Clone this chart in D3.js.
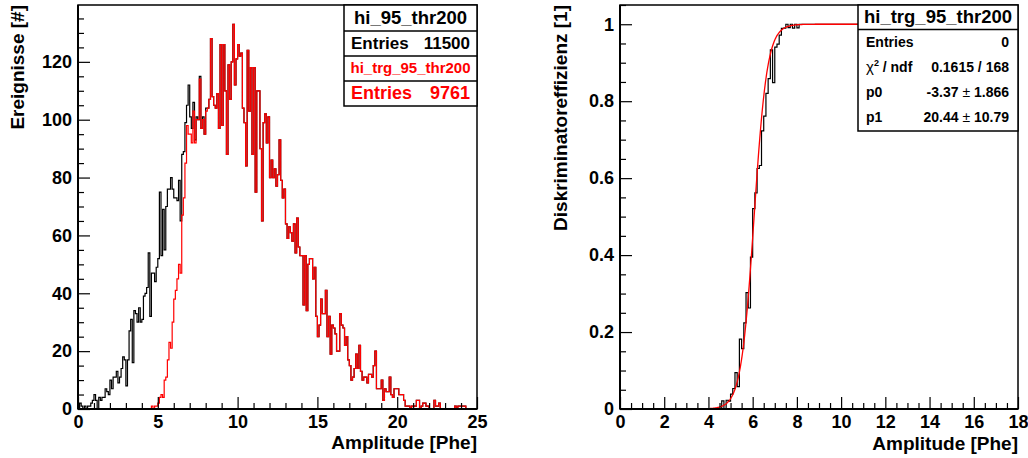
<!DOCTYPE html>
<html><head><meta charset="utf-8">
<script src="https://cdn.jsdelivr.net/npm/d3@7"></script>
<style>
html,body{margin:0;padding:0;background:#fff;}
svg{display:block;}
</style></head><body>
<svg id="c" width="1028" height="458"></svg>
<script>
// Amplitude spectra (0.1 Phe bins, 0..25 Phe)
const binWidth = 0.1;

// hi_95_thr200 : all events
const allCounts = [
  0,2,1,0,1,0,1,1,2,3,
  5,3,0,4,3,4,4,7,6,5,
  10,7,11,11,13,9,11,14,18,17,
  8,17,27,31,16,34,33,30,35,30,
  31,39,40,42,54,32,47,47,44,49,
  52,75,53,69,55,70,76,76,80,76,
  73,73,72,79,65,88,89,99,105,112,
  101,97,106,93,101,100,115,97,101,95,
  104,104,107,128,108,105,104,109,97,126,
  98,126,110,88,119,107,120,133,112,121,
  126,122,123,104,99,84,124,103,118,88,
  118,75,110,110,90,65,99,102,92,101,
  80,86,80,83,77,81,93,79,73,76,
  64,59,63,61,58,64,54,66,56,53,
  53,36,53,34,50,52,52,45,49,32,
  25,29,38,33,33,41,25,32,19,29,
  28,26,20,20,33,29,28,22,25,17,
  15,10,11,14,19,14,22,13,10,11,
  11,9,12,12,11,15,20,7,7,7,
  10,3,7,6,6,11,5,4,7,7,
  7,5,5,5,3,1,1,1,0,1,
  1,1,3,3,0,1,2,2,1,1,
  0,0,0,3,1,1,2,0,0,0,
  0,0,0,0,0,0,1,0,1,1,
  1,1,1,0,0,0,0,0,0,0
];

// hi_trg_95_thr200 : events passing the discriminator
const trgCounts = [
  0,0,0,0,0,0,0,0,0,0,
  0,0,0,0,0,0,0,0,0,0,
  0,0,0,0,0,0,0,0,0,0,
  0,0,0,0,0,0,0,0,0,0,
  0,0,0,0,0,0,1,0,1,1,
  2,4,5,4,10,11,17,23,21,30,
  38,41,45,50,47,67,73,85,98,95,
  95,92,103,92,100,100,114,97,100,95,
  103,104,107,128,108,105,104,109,97,126,
  98,126,110,88,119,107,120,133,112,121,
  126,122,123,104,99,84,124,103,118,88,
  118,75,110,110,90,65,99,102,92,101,
  80,86,80,83,77,81,93,79,73,76,
  64,59,63,61,58,64,54,66,56,53,
  53,36,53,34,50,52,52,45,49,32,
  25,29,38,33,33,41,25,32,19,29,
  28,26,20,20,33,29,28,22,25,17,
  15,10,11,14,19,14,22,13,10,11,
  11,9,12,12,11,15,20,7,7,7,
  10,3,7,6,6,11,5,4,7,7,
  7,5,5,5,3,1,1,1,0,1,
  1,1,3,3,0,1,2,2,1,1,
  0,0,0,3,1,1,2,0,0,0,
  0,0,0,0,0,0,1,0,1,1,
  1,1,1,0,0,0,0,0,0,0
];

// Axis ticks
const leftXMajor = [0,5,10,15,20,25];
const leftYMajor = [0,20,40,60,80,100,120];
const rightXMajor = [0,2,4,6,8,10,12,14,16,18];
const rightYMajor = [0,0.2,0.4,0.6,0.8,1];

// Sigmoid fit of the efficiency: 1/(1+exp(p0*x+p1))
const fitP0 = -3.37, fitP0Err = 1.866;
const fitP1 = 20.44, fitP1Err = 10.79;
const fitChi2 = "0.1615", fitNdf = 168;

// Stats box entries
const statsAll = {name: "hi_95_thr200", entries: 11500};
const statsTrg = {name: "hi_trg_95_thr200", entries: 9761};
const statsEff = {name: "hi_trg_95_thr200", entries: 0};

const FONT = '"Liberation Sans", Arial, Helvetica, sans-serif';
const svg = d3.select("#c").attr("font-family", FONT).attr("font-weight", "bold");

// efficiency = triggered / all, bin by bin
const effValues = allCounts.map((n, i) => n > 0 ? trgCounts[i] / n : 0);

function stepPoints(values, xMax) {
  const pts = [];
  values.forEach((v, i) => {
    const a = i * binWidth, b = (i + 1) * binWidth;
    if (a >= xMax - 1e-9) return;
    pts.push([a, v], [Math.min(b, xMax), v]);
  });
  return pts;
}

function minorTicks(lo, hi, step, majors) {
  return d3.range(lo, hi + step / 2, step)
    .map(v => +v.toFixed(6))
    .filter(v => !majors.some(m => Math.abs(m - v) < 1e-6));
}

function drawFrame(g, x, y, opts) {
  const [x0, x1] = x.range();
  const [yb, yt] = y.range();

  g.append("rect")
    .attr("x", x0).attr("y", yt)
    .attr("width", x1 - x0).attr("height", yb - yt)
    .attr("fill", "none").attr("stroke", "#000").attr("stroke-width", 1.5);

  const styleAxis = a => {
    a.select(".domain").remove();
    a.attr("font-family", FONT).attr("font-size", 18).attr("font-weight", "bold").attr("color", "#000");
    a.selectAll("line").attr("stroke-width", 1.2);
  };

  // x axis: minor then major
  g.append("g").attr("transform", `translate(0,${yb})`)
    .call(d3.axisBottom(x).tickValues(opts.xMinor).tickSize(-6).tickFormat(""))
    .call(styleAxis);
  g.append("g").attr("transform", `translate(0,${yb})`)
    .call(d3.axisBottom(x).tickValues(opts.xMajor).tickSize(-12).tickPadding(6).tickFormat(opts.xFmt))
    .call(styleAxis);

  // y axis
  g.append("g").attr("transform", `translate(${x0},0)`)
    .call(d3.axisLeft(y).tickValues(opts.yMinor).tickSize(-6).tickFormat(""))
    .call(styleAxis);
  g.append("g").attr("transform", `translate(${x0},0)`)
    .call(d3.axisLeft(y).tickValues(opts.yMajor).tickSize(-12).tickPadding(6).tickFormat(opts.yFmt))
    .call(styleAxis);

  // axis lines
  g.append("line").attr("x1", x0).attr("x2", x1).attr("y1", yb).attr("y2", yb)
    .attr("stroke", "#000").attr("stroke-width", 2);
  g.append("line").attr("x1", x0).attr("x2", x0).attr("y1", yt).attr("y2", yb)
    .attr("stroke", "#000").attr("stroke-width", 2);

  // titles
  g.append("text").attr("x", x1).attr("y", opts.xTitleY)
    .attr("text-anchor", "end").attr("font-size", 19).text(opts.xTitle);
  g.append("text")
    .attr("transform", `translate(${opts.yTitleX},${yt}) rotate(-90)`)
    .attr("text-anchor", "end").attr("font-size", 19).text(opts.yTitle);
}

/* ---------------- left panel: amplitude spectra ---------------- */
const xL = d3.scaleLinear().domain([0, 25]).range([78, 477]);
const yMaxL = d3.max(allCounts) * 1.05;
const yL = d3.scaleLinear().domain([0, yMaxL]).range([409, 5]);

const gL = svg.append("g");
gL.append("defs").append("clipPath").attr("id", "clipL")
  .append("rect").attr("x", 78).attr("y", 5).attr("width", 399).attr("height", 404);

const lineL = d3.line().x(d => xL(d[0])).y(d => yL(d[1]));
gL.append("path").attr("clip-path", "url(#clipL)")
  .attr("d", lineL(stepPoints(allCounts, 25)))
  .attr("fill", "none").attr("stroke", "#000").attr("stroke-width", 1.2);
gL.append("path").attr("clip-path", "url(#clipL)")
  .attr("d", lineL(stepPoints(trgCounts, 25)))
  .attr("fill", "none").attr("stroke", "#ff0000").attr("stroke-width", 1.2);

drawFrame(gL, xL, yL, {
  xMajor: leftXMajor, xMinor: minorTicks(0, 25, 1, leftXMajor),
  yMajor: leftYMajor, yMinor: minorTicks(0, 135, 5, leftYMajor),
  xFmt: d3.format("d"), yFmt: d3.format("d"),
  xTitle: "Amplitude [Phe]", xTitleY: 449,
  yTitle: "Ereignisse [#]", yTitleX: 24
});

// stats boxes (left)
const sb = gL.append("g");
sb.append("rect").attr("x", 344).attr("y", 5).attr("width", 133).attr("height", 101)
  .attr("fill", "#fff").attr("stroke", "#000").attr("stroke-width", 1.5);
[31, 56, 81].forEach(yy => sb.append("line").attr("x1", 344).attr("x2", 477)
  .attr("y1", yy).attr("y2", yy).attr("stroke", "#000").attr("stroke-width", 1.5));
sb.append("text").attr("x", 410.5).attr("y", 24).attr("text-anchor", "middle")
  .attr("font-size", 18.5).text(statsAll.name);
sb.append("text").attr("x", 351).attr("y", 49).attr("font-size", 17).text("Entries");
sb.append("text").attr("x", 470).attr("y", 49).attr("text-anchor", "end")
  .attr("font-size", 17).text(statsAll.entries);
sb.append("text").attr("x", 410.5).attr("y", 73).attr("text-anchor", "middle")
  .attr("font-size", 15).attr("fill", "#ff0000").text(statsTrg.name);
sb.append("text").attr("x", 351).attr("y", 99).attr("font-size", 18)
  .attr("fill", "#ff0000").text("Entries");
sb.append("text").attr("x", 470).attr("y", 99).attr("text-anchor", "end")
  .attr("font-size", 18).attr("fill", "#ff0000").text(statsTrg.entries);

/* ---------------- right panel: discriminator efficiency ---------------- */
const xR = d3.scaleLinear().domain([0, 18]).range([620, 1018]);
const yR = d3.scaleLinear().domain([0, 1.05]).range([409, 5]);

const gR = svg.append("g");
gR.append("defs").append("clipPath").attr("id", "clipR")
  .append("rect").attr("x", 620).attr("y", 5).attr("width", 398).attr("height", 404);

const lineR = d3.line().x(d => xR(d[0])).y(d => yR(d[1]));
gR.append("path").attr("clip-path", "url(#clipR)")
  .attr("d", lineR(stepPoints(effValues, 18)))
  .attr("fill", "none").attr("stroke", "#000").attr("stroke-width", 1.2);

const fitFn = x => 1 / (1 + Math.exp(fitP0 * x + fitP1));
const fitPts = d3.range(0, 18.0001, 0.02).map(x => [x, fitFn(x)]);
gR.append("path").attr("clip-path", "url(#clipR)")
  .attr("d", d3.line().x(d => xR(d[0])).y(d => yR(d[1]))(fitPts))
  .attr("fill", "none").attr("stroke", "#ff0000").attr("stroke-width", 1.3);

drawFrame(gR, xR, yR, {
  xMajor: rightXMajor, xMinor: minorTicks(0, 18, 0.5, rightXMajor),
  yMajor: rightYMajor, yMinor: minorTicks(0, 1.05, 0.05, rightYMajor),
  xFmt: d3.format("d"), yFmt: d3.format("~g"),
  xTitle: "Amplitude [Phe]", xTitleY: 450,
  yTitle: "Diskriminatoreffizienz [1]", yTitleX: 567
});

// fit stats box (right)
const fb = gR.append("g");
fb.append("rect").attr("x", 858).attr("y", 5).attr("width", 160).attr("height", 126)
  .attr("fill", "#fff").attr("stroke", "#000").attr("stroke-width", 1.5);
fb.append("line").attr("x1", 858).attr("x2", 1018).attr("y1", 29.5).attr("y2", 29.5)
  .attr("stroke", "#000").attr("stroke-width", 1.5);
fb.append("text").attr("x", 938).attr("y", 23).attr("text-anchor", "middle")
  .attr("font-size", 18.5).text(statsEff.name);

const rowsY = [47, 72, 97, 122];
const rowL = fb.append("g").attr("font-size", 14);
rowL.append("text").attr("x", 866).attr("y", rowsY[0]).text("Entries");
const chi = rowL.append("text").attr("x", 866).attr("y", rowsY[1]);
chi.append("tspan").attr("font-weight", "normal").attr("font-size", 15).text("\u03c7");
chi.append("tspan").attr("dy", -6).attr("font-size", 9).text("2");
chi.append("tspan").attr("dy", 6).text(" / ndf");
rowL.append("text").attr("x", 866).attr("y", rowsY[2]).text("p0");
rowL.append("text").attr("x", 866).attr("y", rowsY[3]).text("p1");

const valR = fb.append("g").attr("font-size", 14).attr("text-anchor", "end");
valR.append("text").attr("x", 1009).attr("y", rowsY[0]).text(statsEff.entries);
valR.append("text").attr("x", 1009).attr("y", rowsY[1]).text(`${fitChi2} / ${fitNdf}`);
function pmText(y, val, err) {
  const t = valR.append("text").attr("x", 1009).attr("y", y);
  t.append("tspan").text(`${val} `);
  t.append("tspan").attr("font-weight", "normal").text("\u00b1");
  t.append("tspan").text(` ${err}`);
}
pmText(rowsY[2], fitP0, fitP0Err);
pmText(rowsY[3], fitP1, fitP1Err);
</script>
</body></html>
